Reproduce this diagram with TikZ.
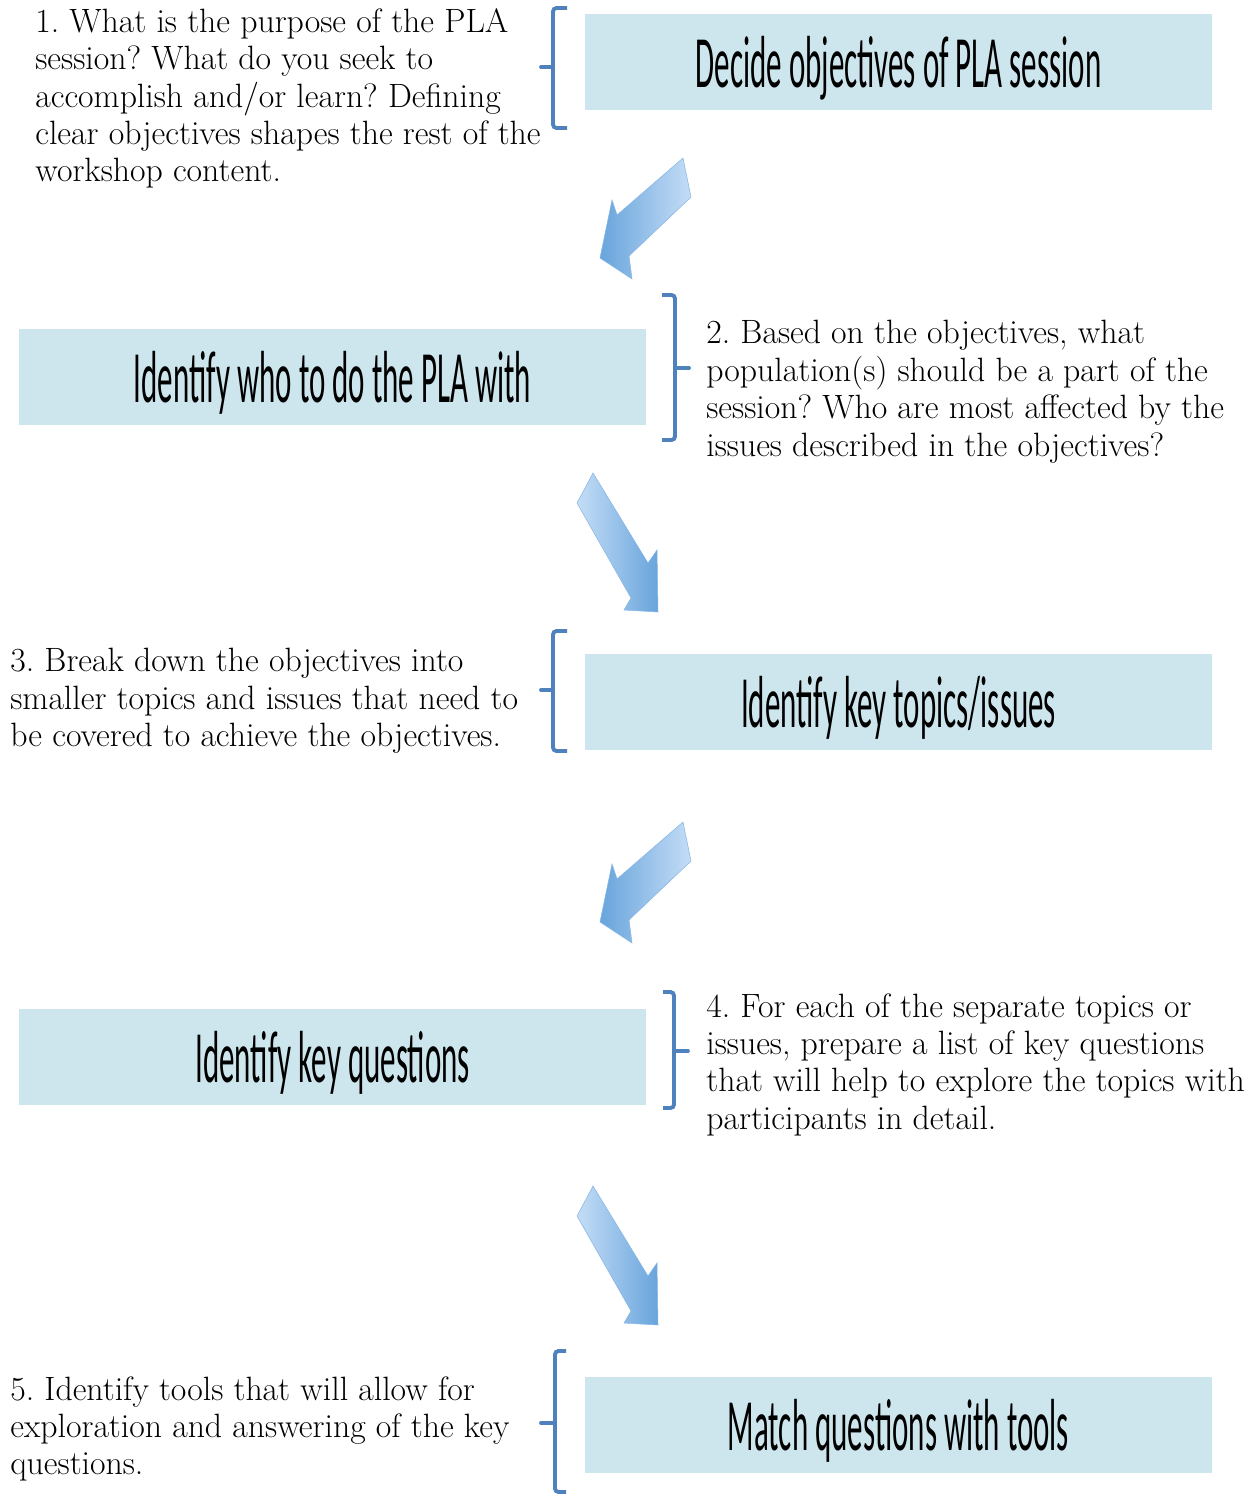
\documentclass[tikz,border=0pt]{standalone}
\usepackage{fontspec}
\newfontfamily\boxfont[FakeStretch=0.42]{Carlito}
\definecolor{boxfill}{RGB}{205,230,237}
\definecolor{braceblue}{RGB}{79,129,189}
\definecolor{arrowlight}{RGB}{196,221,246}
\definecolor{arrowdark}{RGB}{104,164,220}
\frenchspacing

\begin{document}
\begin{tikzpicture}[x=0.02cm,y=-0.02cm,
  stepbox/.style={fill=boxfill,minimum width=12.54cm,minimum height=1.92cm,inner sep=0pt,
    text depth=0pt,font=\boxfont\fontsize{42}{44}\selectfont},
  note/.style={anchor=north west,align=left,inner sep=0pt,font=\fontsize{19.2}{21.3}\selectfont},
  bracket/.style={draw=braceblue,line width=2.2pt,rounded corners=2pt},
  tick/.style={draw=braceblue,line width=2.2pt,line cap=round},
  blockarrow/.style={draw=arrowdark!80,line width=0.3pt,shading=axis}]

  \path[use as bounding box] (0,0) rectangle (1254,1494);
  \clip (0,0) rectangle (1254,1494);

  % boxes
  \node[stepbox] (objectives) at (898.5,62) {Decide objectives of PLA session};
  \node[stepbox] (population) at (332.5,377) {Identify who to do the PLA with};
  \node[stepbox] (topics) at (898.5,702) {Identify key topics/issues};
  \node[stepbox] (questions) at (332.5,1057) {Identify key questions};
  \node[stepbox] (tools) at (898.5,1425) {Match questions with tools};

  % notes
  \node[note] (q1) at (35,8) {1. What is the purpose of the PLA\\
    session? What do you seek to\\
    accomplish and/or learn? Defining\\
    clear objectives shapes the rest of the\\
    workshop content.};
  \node[note] (q2) at (706,320) {2. Based on the objectives, what\\
    population(s) should be a part of the\\
    session? Who are most affected by the\\
    issues described in the objectives?};
  \node[note] (q3) at (10,648) {3. Break down the objectives into\\
    smaller topics and issues that need to\\
    be covered to achieve the objectives.};
  \node[note] (q4) at (706,993) {4. For each of the separate topics or\\
    issues, prepare a list of key questions\\
    that will help to explore the topics with\\
    participants in detail.};
  \node[note] (q5) at (10,1376) {5. Identify tools that will allow for\\
    exploration and answering of the key\\
    questions.};

  % brackets
  \draw[bracket] (567,8) -- (553,8) -- (553,128) -- (567,128);
  \draw[tick] (553,67) -- (541,67);
  \draw[bracket] (662,295) -- (675,295) -- (675,440) -- (662,440);
  \draw[tick] (675,368) -- (689,368);
  \draw[bracket] (567,631) -- (553,631) -- (553,751) -- (567,751);
  \draw[tick] (553,690) -- (541,690);
  \draw[bracket] (663,992) -- (674,992) -- (674,1108) -- (663,1108);
  \draw[tick] (674,1051) -- (688,1051);
  \draw[bracket] (566,1351) -- (555,1351) -- (555,1492) -- (566,1492);
  \draw[tick] (555,1423) -- (541,1423);

  % arrows
  \foreach \dy in {0,664}
    \draw[blockarrow,left color=arrowdark,right color=arrowlight,shift={(0,\dy)}]
      (683,158) -- (691,197) -- (629,256) -- (632,279) -- (600,258)
      -- (612,200) -- (617,215) -- cycle;
  \foreach \dy in {0,713}
    \draw[blockarrow,left color=arrowlight,right color=arrowdark,shift={(0,\dy)}]
      (593,473) -- (577,503) -- (631,598) -- (624,610) -- (658,612)
      -- (657,550) -- (648,563) -- cycle;

\end{tikzpicture}
\end{document}
